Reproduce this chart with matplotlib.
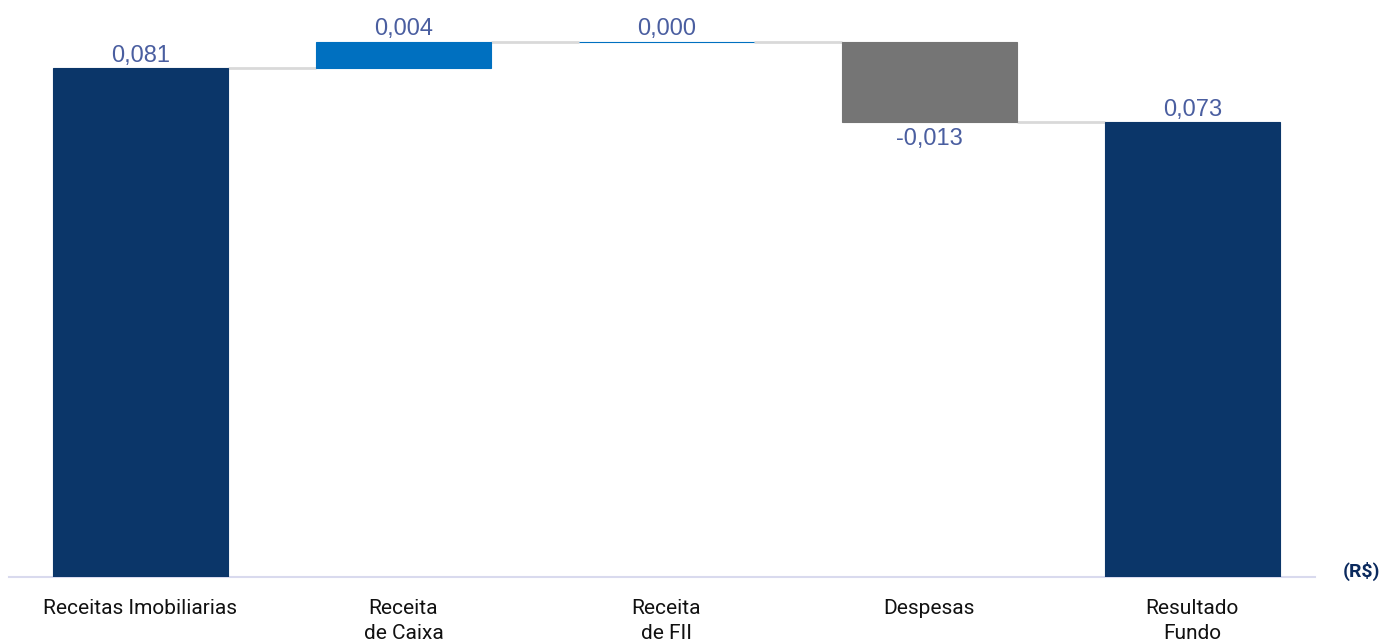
import matplotlib.pyplot as plt

# dados do gráfico (R$ por cota)
categorias = ["Receitas Imobiliarias", "Receita\nde Caixa", "Receita\nde FII",
              "Despesas", "Resultado\nFundo"]
variacoes = [0.0812, 0.0042, 0.0000, -0.0128]
cores = ["#0B3669", "#0070C0", "#0070C0", "#757575", "#0B3669"]

resultado = sum(variacoes)
valores = variacoes + [resultado]

# base e altura de cada barra da cascata
bases, alturas = [], []
acum = 0.0
for v in variacoes:
    if v >= 0:
        bases.append(acum)
        alturas.append(v)
    else:
        bases.append(acum + v)
        alturas.append(-v)
    acum += v
bases.append(0.0)
alturas.append(resultado)

fig = plt.figure(figsize=(13.84, 6.43), dpi=100)
ax = fig.add_axes([9 / 1384, 66 / 643, 1306 / 1384, 577 / 643])

x = list(range(len(categorias)))
largura = 0.667
ax.bar(x, alturas, bottom=bases, width=largura, color=cores,
       edgecolor=cores, linewidth=0.8, zorder=3)

# linhas de ligação entre as barras
acum = 0.0
for i, v in enumerate(variacoes):
    acum += v
    ax.plot([i + largura / 2, i + 1 - largura / 2], [acum, acum],
            color="#D9D9D9", linewidth=2, zorder=2, solid_capstyle="butt")

# rótulos de valor
for i, v in enumerate(valores):
    txt = f"{v:.3f}".replace(".", ",")
    if v >= 0:
        y = bases[i] + alturas[i]
        ax.annotate(txt, (i, y), xytext=(0, 1), textcoords="offset points",
                    ha="center", va="bottom", fontsize=17, color="#4A5EA0",
                    family="Liberation Sans")
    else:
        y = bases[i]
        ax.annotate(txt, (i, y), xytext=(0, -4), textcoords="offset points",
                    ha="center", va="top", fontsize=17, color="#4A5EA0",
                    family="Liberation Sans")

ax.set_xlim(-0.5, 4.467)
ax.set_ylim(0, 577 / 6267)
ax.set_xticks(x)
ax.set_xticklabels(categorias, fontsize=15, family="Roboto", color="#111111",
                   linespacing=1.4)
ax.tick_params(axis="x", length=0, pad=16)
ax.set_yticks([])
for lado in ["top", "left", "right"]:
    ax.spines[lado].set_visible(False)
ax.spines["bottom"].set_color("#D9DAEE")
ax.spines["bottom"].set_linewidth(1.5)

fig.text(1362 / 1384, 1 - 571 / 643, "(R$)", ha="center", va="center",
         fontsize=14, fontweight="bold", color="#0B2A5E", family="Roboto")

fig.savefig("out.png", dpi=100)
